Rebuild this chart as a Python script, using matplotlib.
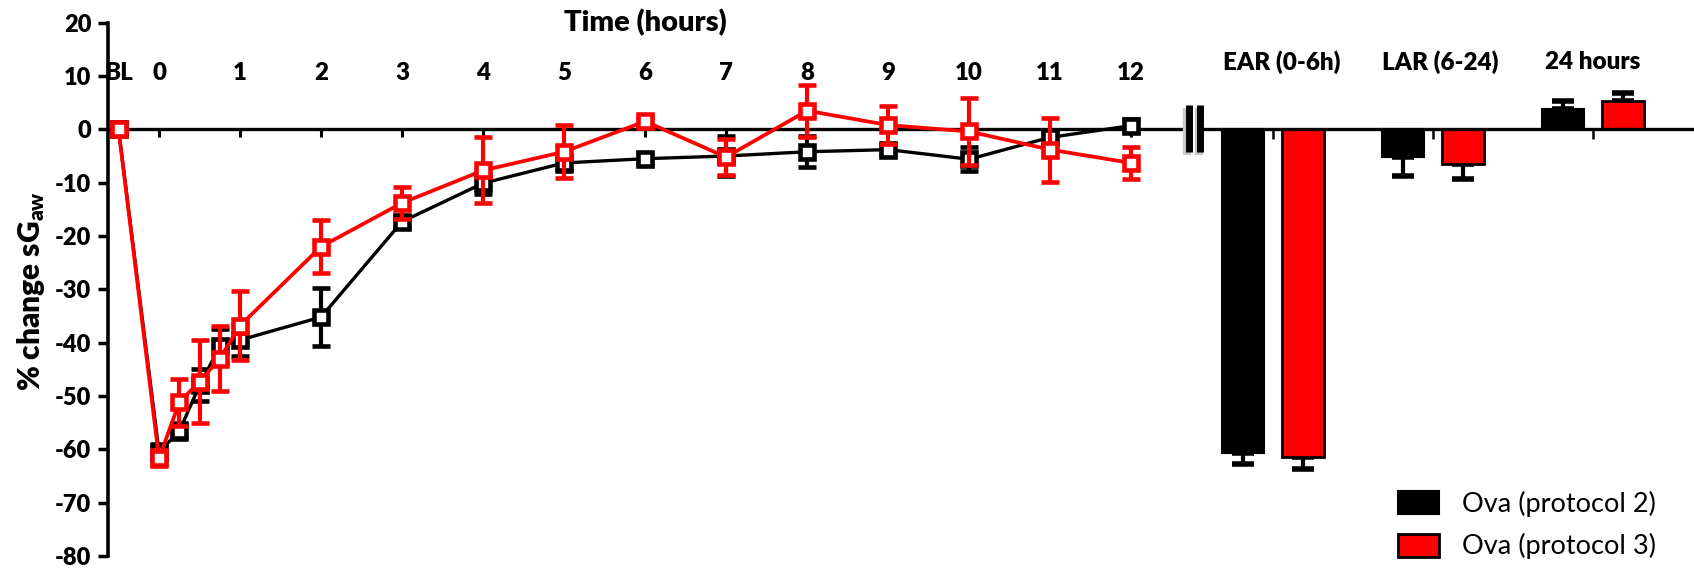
import numpy as np
import matplotlib
matplotlib.use("Agg")
import matplotlib.pyplot as plt
from matplotlib.lines import Line2D
from matplotlib.patches import Patch

plt.rcParams['font.family'] = ['Lato', 'DejaVu Sans']
plt.rcParams['mathtext.fontset'] = 'custom'
plt.rcParams['mathtext.bf'] = 'Lato:heavy'
plt.rcParams['mathtext.rm'] = 'Lato:heavy'
plt.rcParams['mathtext.it'] = 'Lato:heavy'

BOLD = "heavy"

# ---------------- data ----------------
time_labels = ["BL", "0", "1", "2", "3", "4", "5", "6", "7", "8", "9", "10", "11", "12"]
time_label_pos = [-0.5, 0, 1, 2, 3, 4, 5, 6, 7, 8, 9, 10, 11, 12]
times = [-0.5, 0, 0.25, 0.5, 0.75, 1, 2, 3, 4, 5, 6, 7, 8, 9, 10, 11, 12]

series_names = ["Ova (protocol 2)", "Ova (protocol 3)"]
black_vals = [0, -60.5, -56.6, -48.0, -40.7, -39.5, -35.2, -17.3, -10.1, -6.3, -5.5, -5.0, -4.2, -3.8, -5.6, -1.5, 0.7]
black_err = [0, 1.5, 1.5, 3.0, 3.2, 3.0, 5.4, 1.0, 2.0, 1.5, 1.0, 3.8, 2.9, 1.0, 2.3, 1.0, 1.2]
red_vals = [0, -61.7, -51.2, -47.3, -43.0, -36.8, -22.0, -13.8, -7.7, -4.2, 1.5, -5.2, 3.5, 0.8, -0.4, -3.8, -6.3]
red_err = [0, 1.5, 4.4, 7.8, 6.1, 6.5, 5.0, 3.0, 6.2, 5.0, 0.8, 3.4, 4.9, 3.5, 6.2, 6.0, 3.0]

group_names = ["EAR (0-6h)", "LAR (6-24)", "24 hours"]
black_bar = [-60.6, -5.1, 3.8]
black_bar_err = [2.2, 3.6, 1.6]
red_bar = [-61.5, -6.5, 5.3]
red_bar_err = [2.1, 2.9, 1.5]

yticks = list(range(-80, 21, 10))

# ---------------- figure ----------------
W, H = 1694, 568
fig = plt.figure(figsize=(W / 100, H / 100), dpi=100)


def fx(px):
    return px / W


def fy(py):
    return 1 - py / H


top_px, bot_px = 22.7, 556
ax1 = fig.add_axes([fx(108), fy(bot_px), fx(1183) - fx(108), fy(top_px) - fy(bot_px)])
ax1.set_xlim(-0.63, 12.64)
ax1.set_ylim(-80, 20)
for s in ("top", "right"):
    ax1.spines[s].set_visible(False)
ax1.spines["bottom"].set_position(("data", 0))
ax1.spines["bottom"].set_linewidth(2.4)
ax1.spines["left"].set_linewidth(2.6)
ax1.set_yticks(yticks)
ax1.set_yticklabels([str(t) for t in yticks], fontweight=BOLD, fontsize=17)
ax1.tick_params(axis="y", direction="out", length=7, width=2.5, pad=5)
ax1.set_xticks(range(13))
ax1.tick_params(axis="x", direction="out", length=6, width=2.2, labelbottom=False)

for pos, lab in zip(time_label_pos, time_labels):
    ax1.text(pos, 10.6, lab, ha="center", va="center", fontsize=17.3, fontweight=BOLD)
ax1.text(6, 20.1, "Time (hours)", ha="center", va="center", fontsize=21, fontweight=BOLD)

common = dict(marker="s", ms=10, mfc="white", mew=3.3,
              elinewidth=3, capsize=6.5, capthick=3.3, clip_on=False)
ax1.errorbar(times, black_vals, yerr=black_err, color="black", mec="black", lw=2.4, zorder=3, **common)
ax1.errorbar(times, red_vals, yerr=red_err, color="#FF0000", mec="#FF0000", lw=2.7, zorder=4, **common)

fig.text(fx(31), fy(291), "% change sG$_{\\mathbf{aw}}$", rotation=90, ha="center", va="center",
         fontsize=21.5, fontweight=BOLD)

# ---------------- bars ----------------
ax2 = fig.add_axes([fx(1203), fy(bot_px), 1 - fx(1203), fy(top_px) - fy(bot_px)])
ax2.set_xlim(-0.4375, 2.63)
ax2.set_ylim(-80, 20)
for s in ("top", "right", "left"):
    ax2.spines[s].set_visible(False)
ax2.spines["bottom"].set_position(("data", 0))
ax2.spines["bottom"].set_linewidth(2.4)
ax2.set_yticks([])
ax2.set_xticks(range(3))
ax2.tick_params(axis="x", direction="out", length=7, width=1.8, labelbottom=False)

idx = np.arange(len(group_names))
off, bw = 0.1875, 0.2625
ax2.bar(idx - off, black_bar, width=bw, color="black", edgecolor="black", lw=1.5, zorder=2)
ax2.bar(idx + off, red_bar, width=bw, color="#FF0000", edgecolor="black", lw=2, zorder=2)


def one_sided(vals, errs):
    v = np.array(vals)
    e = np.array(errs)
    lower = np.where(v < 0, e, 0)
    upper = np.where(v >= 0, e, 0)
    return [lower, upper]


ax2.errorbar(idx - off, black_bar, yerr=one_sided(black_bar, black_bar_err), fmt="none",
             ecolor="black", elinewidth=3, capsize=8, capthick=4, zorder=1)
ax2.errorbar(idx + off, red_bar, yerr=one_sided(red_bar, red_bar_err), fmt="none",
             ecolor="black", elinewidth=3, capsize=8, capthick=4, zorder=1)

label_nudge = [0.055, 0.045, 0.0]
for i, name in enumerate(group_names):
    ax2.text(i + label_nudge[i], 12.6, name, ha="center", va="center", fontsize=17.5, fontweight=BOLD)

# axis break marks (with a soft shadow)
for xp in (1188.5, 1200):
    fig.add_artist(Line2D([fx(xp - 1.5), fx(xp - 1.5)], [fy(108), fy(155)], transform=fig.transFigure,
                          color="#c8c8c8", lw=6, solid_capstyle="butt"))
    fig.add_artist(Line2D([fx(xp), fx(xp)], [fy(105), fy(152)], transform=fig.transFigure,
                          color="black", lw=5, solid_capstyle="butt"))

handles = [Patch(facecolor="black", edgecolor="black", lw=1.5),
           Patch(facecolor="#FF0000", edgecolor="black", lw=2)]
fig.legend(handles, series_names, loc="upper left", bbox_to_anchor=(fx(1398), fy(491)),
           frameon=False, fontsize=19.5, handlelength=1.52, handleheight=0.93,
           handletextpad=0.85, labelspacing=0.6, borderpad=0, borderaxespad=0)

fig.savefig("out.png", dpi=100)
